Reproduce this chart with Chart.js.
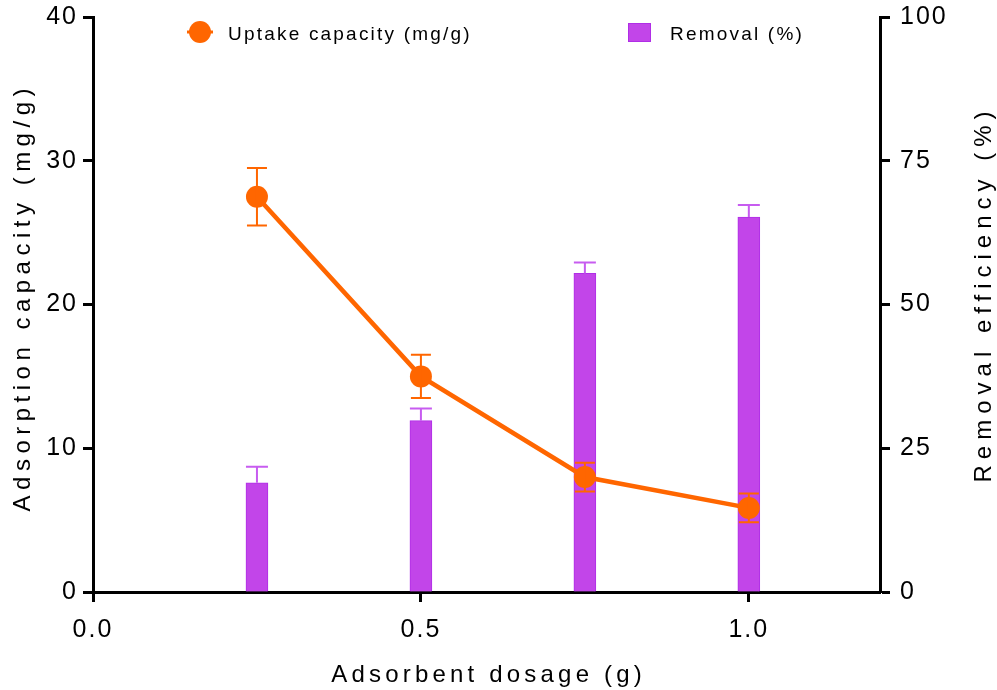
<!DOCTYPE html>
<html>
<head>
<meta charset="utf-8">
<title>Adsorbent dosage</title>
<script src="https://cdn.jsdelivr.net/npm/chart.js@4/dist/chart.umd.min.js"></script>
<style>
  html, body { margin: 0; padding: 0; background: #ffffff; }
  #wrap { width: 997px; height: 690px; }
</style>
</head>
<body>
<div id="wrap"><canvas id="c" width="997" height="690"></canvas></div>
<script>
// Adsorbent dosage (g)
const dosage = [0.25, 0.5, 0.75, 1.0];
// Uptake capacity (mg/g) with standard deviation
const uptake = [27.5, 15.0, 8.0, 5.85];
const uptakeErr = [2.0, 1.5, 1.0, 1.0];
// Removal efficiency (%) with standard deviation
const removal = [19.0, 29.8, 55.4, 65.2];
const removalErr = [2.8, 2.1, 1.9, 2.1];
// Tick values
const xTicks = [0, 0.5, 1.0];
const yLeftTicks = [0, 10, 20, 30, 40];
const yRightTicks = [0, 25, 50, 75, 100];

const ORANGE = '#ff6600';
const PURPLE = '#c245e9';
const PURPLE_EDGE = '#b02ee6';
const FONT = '"Liberation Sans", Arial, sans-serif';

function fixTicks(values) {
  return function (scale) { scale.ticks = values.map(v => ({ value: v })); };
}

// keep the plot frame fixed: no extra room reserved for overhanging tick labels
function fitWidth(w) {
  return function (s) {
    s.width = w;
    s.paddingTop = 0; s.paddingBottom = 0;
  };
}

function spacedText(ctx, text, x, y, size, spacing, align) {
  ctx.save();
  ctx.font = size + 'px ' + FONT;
  ctx.letterSpacing = spacing + 'px';
  ctx.fillStyle = '#000';
  ctx.textBaseline = 'middle';
  const w = ctx.measureText(text).width - spacing;
  let x0 = x;
  if (align === 'center') x0 = x - w / 2;
  ctx.textAlign = 'left';
  ctx.fillText(text, x0, y);
  ctx.restore();
}

const decor = {
  id: 'decor',
  beforeDraw(chart) {
    chart.ctx.letterSpacing = '2px';
  },
  afterDatasetsDraw(chart) {
    const ctx = chart.ctx;
    const xs = chart.scales.x, yl = chart.scales.y, yr = chart.scales.y2;
    ctx.save();
    ctx.lineWidth = 2;
    // removal error bars (upper only)
    ctx.strokeStyle = '#c75cf0';
    dosage.forEach((d, i) => {
      const px = xs.getPixelForValue(d);
      const top = yr.getPixelForValue(removal[i] + removalErr[i]);
      const base = yr.getPixelForValue(removal[i]);
      ctx.beginPath();
      ctx.moveTo(px, base); ctx.lineTo(px, top);
      ctx.moveTo(px - 11, top); ctx.lineTo(px + 11, top);
      ctx.stroke();
    });
    // uptake error bars
    ctx.strokeStyle = ORANGE;
    dosage.forEach((d, i) => {
      const px = xs.getPixelForValue(d);
      const hi = yl.getPixelForValue(uptake[i] + uptakeErr[i]);
      const lo = yl.getPixelForValue(uptake[i] - uptakeErr[i]);
      ctx.beginPath();
      ctx.moveTo(px, lo); ctx.lineTo(px, hi);
      ctx.moveTo(px - 10, hi); ctx.lineTo(px + 10, hi);
      ctx.moveTo(px - 10, lo); ctx.lineTo(px + 10, lo);
      ctx.stroke();
    });
    ctx.restore();
  },
  afterDraw(chart) {
    const ctx = chart.ctx;
    const area = chart.chartArea;
    // axis titles
    spacedText(ctx, 'Adsorbent dosage (g)', (area.left + area.right) / 2, 675, 24, 4.2, 'center');
    ctx.save();
    ctx.translate(23, 300);
    ctx.rotate(-Math.PI / 2);
    spacedText(ctx, 'Adsorption capacity (mg/g)', 0, 0, 24, 5.5, 'center');
    ctx.restore();
    ctx.save();
    ctx.translate(984, 297);
    ctx.rotate(-Math.PI / 2);
    spacedText(ctx, 'Removal efficiency (%)', 0, 0, 24, 6.0, 'center');
    ctx.restore();

    // legend
    ctx.save();
    ctx.strokeStyle = ORANGE;
    ctx.lineWidth = 3;
    ctx.beginPath(); ctx.moveTo(187, 32); ctx.lineTo(213, 32); ctx.stroke();
    ctx.fillStyle = ORANGE;
    ctx.beginPath(); ctx.arc(200, 32, 11, 0, Math.PI * 2); ctx.fill();
    ctx.fillStyle = PURPLE;
    ctx.strokeStyle = PURPLE_EDGE;
    ctx.lineWidth = 1;
    ctx.fillRect(628.5, 23.5, 22, 18);
    ctx.strokeRect(628.5, 23.5, 22, 18);
    ctx.restore();
    spacedText(ctx, 'Uptake capacity (mg/g)', 228, 35, 19, 2.2, 'left');
    spacedText(ctx, 'Removal (%)', 670, 35, 19, 2.2, 'left');
  }
};

const tickFont = { family: FONT, size: 25 };
const gridOpts = {
  display: true, drawOnChartArea: false, drawTicks: true, offset: false,
  tickLength: 10, tickWidth: 3, tickColor: '#000'
};
const borderOpts = { display: true, color: '#000', width: 3 };

new Chart(document.getElementById('c'), {
  data: {
    datasets: [
      {
        type: 'line',
        label: 'Uptake capacity (mg/g)',
        data: dosage.map((x, i) => ({ x, y: uptake[i] })),
        yAxisID: 'y',
        borderColor: ORANGE,
        backgroundColor: ORANGE,
        borderWidth: 4.5,
        pointRadius: 11,
        pointBackgroundColor: ORANGE,
        pointBorderWidth: 0,
        tension: 0,
        order: 0
      },
      {
        type: 'bar',
        label: 'Removal (%)',
        data: dosage.map((x, i) => ({ x, y: removal[i] })),
        yAxisID: 'y2',
        backgroundColor: PURPLE,
        borderColor: PURPLE_EDGE,
        borderWidth: 1,
        barThickness: 22,
        order: 1
      }
    ]
  },
  options: {
    responsive: false,
    animation: false,
    devicePixelRatio: 1,
    layout: { padding: { top: 17, left: 0, right: 0, bottom: 0 } },
    plugins: { legend: { display: false }, tooltip: { enabled: false } },
    scales: {
      x: {
        type: 'linear',
        position: 'bottom',
        offset: false,
        min: 0, max: 1.2,
        afterBuildTicks: fixTicks(xTicks),
        afterFit(s) { s.height = 98; s.paddingLeft = 0; s.paddingRight = 0; },
        grid: gridOpts,
        border: borderOpts,
        ticks: {
          color: '#000', font: tickFont, padding: 13, maxRotation: 0,
          callback: v => Number(v).toFixed(1)
        }
      },
      y: {
        type: 'linear',
        position: 'left',
        min: 0, max: 40,
        afterBuildTicks: fixTicks(yLeftTicks),
        afterFit: fitWidth(93),
        grid: gridOpts,
        border: borderOpts,
        ticks: { color: '#000', font: tickFont, padding: 5 }
      },
      y2: {
        type: 'linear',
        position: 'right',
        min: 0, max: 100,
        afterBuildTicks: fixTicks(yRightTicks),
        afterFit: fitWidth(117),
        grid: gridOpts,
        border: borderOpts,
        ticks: { color: '#000', font: tickFont, padding: 10 }
      }
    }
  },
  plugins: [decor]
});
</script>
</body>
</html>
